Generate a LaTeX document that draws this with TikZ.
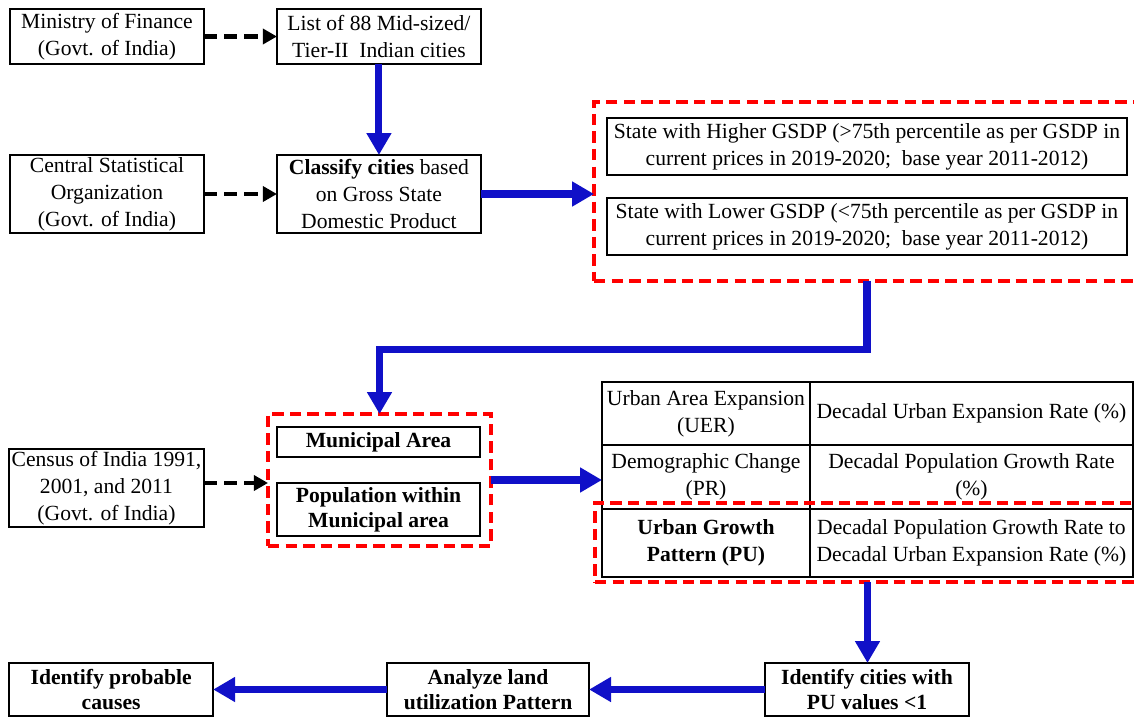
\documentclass[tikz,border=0pt]{standalone}
\usepackage{fontspec}
\setmainfont{Liberation Serif}
\usetikzlibrary{arrows.meta,positioning,calc}

\definecolor{arrowblue}{RGB}{16,16,200}

\tikzset{
    box/.style = {draw, line width=1pt, align=center, inner sep=1pt, outer sep=0pt,
                  font=\fontsize{12.3}{15.4}\selectfont},
    boldbox/.style = {box, font=\fontsize{12.3}{14.4}\selectfont\bfseries},
    cell/.style = {box, minimum height=1.26cm},
    redbox/.style = {draw=red, line width=2pt, dash pattern=on 6.5pt off 3.5pt,
                     inner sep=0pt, outer sep=0pt},
    bluearrow/.style = {draw=arrowblue, line width=4pt, line join=miter,
                        -{Triangle[width=13.5pt,length=12.5pt]}},
    srcarrow/.style = {line width=2.8pt, dash pattern=on 7.5pt off 4pt,
                       -{Triangle[width=8.5pt,length=8pt]}},
}

\begin{document}
\begin{tikzpicture}[x=0.02cm, y=-0.02cm]
    \useasboundingbox (0,0) rectangle (1134,717);

    \node[box, minimum width=3.88cm, minimum height=1.1cm] (fin) at (107,36.5)
        {Ministry of Finance\\(Govt. of India)};
    \node[box, minimum width=4.08cm, minimum height=1.1cm, right=1.46cm of fin] (list)
        {List of 88 Mid-sized/\\Tier-II~ Indian cities};
    \node[box, minimum width=3.88cm, minimum height=1.56cm] (cso) at (107,194)
        {Central Statistical\\Organization\\(Govt. of India)};
    \node[box, minimum width=4.08cm, minimum height=1.56cm, right=1.46cm of cso] (cls)
        {\textbf{Classify cities} based\\on Gross State\\Domestic Product};

    \node[redbox, minimum width=10.92cm, minimum height=3.58cm] (red1) at (867,191.5) {};
    \node[box, minimum width=10.4cm, minimum height=1.14cm] (hi) at (867,146.5)
        {State with Higher GSDP (>75th percentile as per GSDP in\\current prices in 2019-2020;~ base year 2011-2012)};
    \node[box, minimum width=10.4cm, minimum height=1.14cm] (lo) at (867,226.5)
        {State with Lower GSDP (<75th percentile as per GSDP in\\current prices in 2019-2020;~ base year 2011-2012)};

    \node[box, minimum width=3.9cm, minimum height=1.3cm] (census) at (106.5,488)
        {Census of India 1991,\\2001, and 2011\\(Govt. of India)};
    \node[redbox, minimum width=4.46cm, minimum height=2.64cm] (red2) at (379.5,480) {};
    \node[boldbox, minimum width=4.06cm, minimum height=0.6cm] (mun) at (378.5,442)
        {Municipal Area};
    \node[boldbox, minimum width=4.06cm, minimum height=1.06cm] (pop) at (378.5,509.5)
        {Population within\\Municipal area};

    \node[cell, minimum width=4.16cm] (uer) at (706,413.5)
        {Urban Area Expansion\\(UER)};
    \node[cell, minimum width=6.46cm, right=0pt of uer] (uerv)
        {Decadal Urban Expansion Rate (\%)};
    \node[cell, minimum width=4.16cm, minimum height=1.28cm, below=0pt of uer] (pr)
        {Demographic Change\\(PR)};
    \node[cell, minimum width=6.46cm, minimum height=1.28cm, right=0pt of pr] (prv)
        {Decadal Population Growth Rate\\(\%)};
    \node[cell, minimum width=4.16cm, minimum height=1.36cm, below=0pt of pr] (pu)
        {\textbf{Urban Growth}\\\textbf{Pattern (PU)}};
    \node[cell, minimum width=6.46cm, minimum height=1.36cm, right=0pt of pu] (puv)
        {Decadal Population Growth Rate to\\Decadal Urban Expansion Rate (\%)};
    \node[redbox, minimum width=10.9cm, minimum height=1.58cm] (red3) at (867.5,542.5) {};

    \node[boldbox, minimum width=4.08cm, minimum height=1.06cm] (ident) at (867,689.5)
        {Identify cities with\\PU values <1};
    \node[boldbox, minimum width=4.04cm, minimum height=1.06cm, left=3.52cm of ident] (anl)
        {Analyze land\\utilization Pattern};
    \node[boldbox, minimum width=4.08cm, minimum height=1.06cm, left=3.48cm of anl] (prob)
        {Identify probable\\causes};

    \draw[srcarrow] (fin) -- (list);
    \draw[srcarrow] (cso) -- (cls);
    \draw[srcarrow] ($(census.east)+(0,-5)$) -- ($(census.east -| red2.west)+(0,-5)$);

    \draw[bluearrow] (list) -- (cls);
    \draw[bluearrow] (cls.east) -- (cls.east -| red1.west);
    \draw[bluearrow] (red1.south) -- ++(0,69) -| (red2.north);
    \draw[bluearrow] (red2.east) -- (red2.east -| pr.west);
    \draw[bluearrow] (red3.south) -- (red3.south |- ident.north);
    \draw[bluearrow] (ident) -- (anl);
    \draw[bluearrow] (anl) -- (prob);
\end{tikzpicture}
\end{document}
